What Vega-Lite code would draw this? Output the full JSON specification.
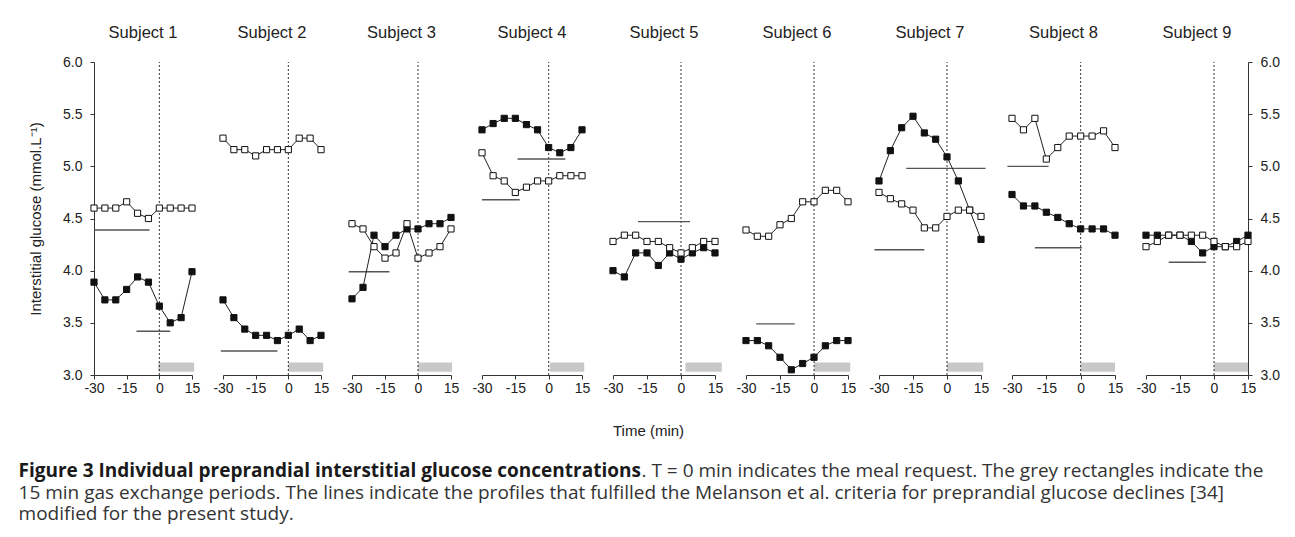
{
"$schema": "https://vega.github.io/schema/vega-lite/v6.json",
"background": "white",
"padding": {"left": 18, "top": 24, "right": 0, "bottom": 8},
"autosize": {"type": "pad"},
"datasets": {"g": [
{"s":1,"k":"filled","t":-30,"v":3.89},{"s":1,"k":"filled","t":-25,"v":3.72},{"s":1,"k":"filled","t":-20,"v":3.72},{"s":1,"k":"filled","t":-15,"v":3.82},{"s":1,"k":"filled","t":-10,"v":3.94},{"s":1,"k":"filled","t":-5,"v":3.89},{"s":1,"k":"filled","t":0,"v":3.66},{"s":1,"k":"filled","t":5,"v":3.50},{"s":1,"k":"filled","t":10,"v":3.55},{"s":1,"k":"filled","t":15,"v":3.99},
{"s":1,"k":"open","t":-30,"v":4.60},{"s":1,"k":"open","t":-25,"v":4.60},{"s":1,"k":"open","t":-20,"v":4.60},{"s":1,"k":"open","t":-15,"v":4.66},{"s":1,"k":"open","t":-10,"v":4.55},{"s":1,"k":"open","t":-5,"v":4.50},{"s":1,"k":"open","t":0,"v":4.60},{"s":1,"k":"open","t":5,"v":4.60},{"s":1,"k":"open","t":10,"v":4.60},{"s":1,"k":"open","t":15,"v":4.60},
{"s":2,"k":"filled","t":-30,"v":3.72},{"s":2,"k":"filled","t":-25,"v":3.55},{"s":2,"k":"filled","t":-20,"v":3.44},{"s":2,"k":"filled","t":-15,"v":3.38},{"s":2,"k":"filled","t":-10,"v":3.38},{"s":2,"k":"filled","t":-5,"v":3.33},{"s":2,"k":"filled","t":0,"v":3.38},{"s":2,"k":"filled","t":5,"v":3.44},{"s":2,"k":"filled","t":10,"v":3.33},{"s":2,"k":"filled","t":15,"v":3.38},
{"s":2,"k":"open","t":-30,"v":5.27},{"s":2,"k":"open","t":-25,"v":5.16},{"s":2,"k":"open","t":-20,"v":5.16},{"s":2,"k":"open","t":-15,"v":5.10},{"s":2,"k":"open","t":-10,"v":5.16},{"s":2,"k":"open","t":-5,"v":5.16},{"s":2,"k":"open","t":0,"v":5.16},{"s":2,"k":"open","t":5,"v":5.27},{"s":2,"k":"open","t":10,"v":5.27},{"s":2,"k":"open","t":15,"v":5.16},
{"s":3,"k":"filled","t":-30,"v":3.73},{"s":3,"k":"filled","t":-25,"v":3.84},{"s":3,"k":"filled","t":-20,"v":4.34},{"s":3,"k":"filled","t":-15,"v":4.23},{"s":3,"k":"filled","t":-10,"v":4.34},{"s":3,"k":"filled","t":-5,"v":4.40},{"s":3,"k":"filled","t":0,"v":4.40},{"s":3,"k":"filled","t":5,"v":4.45},{"s":3,"k":"filled","t":10,"v":4.45},{"s":3,"k":"filled","t":15,"v":4.51},
{"s":3,"k":"open","t":-30,"v":4.45},{"s":3,"k":"open","t":-25,"v":4.40},{"s":3,"k":"open","t":-20,"v":4.23},{"s":3,"k":"open","t":-15,"v":4.12},{"s":3,"k":"open","t":-10,"v":4.17},{"s":3,"k":"open","t":-5,"v":4.45},{"s":3,"k":"open","t":0,"v":4.12},{"s":3,"k":"open","t":5,"v":4.17},{"s":3,"k":"open","t":10,"v":4.23},{"s":3,"k":"open","t":15,"v":4.40},
{"s":4,"k":"filled","t":-30,"v":5.35},{"s":4,"k":"filled","t":-25,"v":5.41},{"s":4,"k":"filled","t":-20,"v":5.46},{"s":4,"k":"filled","t":-15,"v":5.46},{"s":4,"k":"filled","t":-10,"v":5.40},{"s":4,"k":"filled","t":-5,"v":5.35},{"s":4,"k":"filled","t":0,"v":5.18},{"s":4,"k":"filled","t":5,"v":5.13},{"s":4,"k":"filled","t":10,"v":5.18},{"s":4,"k":"filled","t":15,"v":5.35},
{"s":4,"k":"open","t":-30,"v":5.13},{"s":4,"k":"open","t":-25,"v":4.91},{"s":4,"k":"open","t":-20,"v":4.86},{"s":4,"k":"open","t":-15,"v":4.75},{"s":4,"k":"open","t":-10,"v":4.80},{"s":4,"k":"open","t":-5,"v":4.86},{"s":4,"k":"open","t":0,"v":4.86},{"s":4,"k":"open","t":5,"v":4.91},{"s":4,"k":"open","t":10,"v":4.91},{"s":4,"k":"open","t":15,"v":4.91},
{"s":5,"k":"filled","t":-30,"v":4.00},{"s":5,"k":"filled","t":-25,"v":3.94},{"s":5,"k":"filled","t":-20,"v":4.17},{"s":5,"k":"filled","t":-15,"v":4.17},{"s":5,"k":"filled","t":-10,"v":4.05},{"s":5,"k":"filled","t":-5,"v":4.17},{"s":5,"k":"filled","t":0,"v":4.11},{"s":5,"k":"filled","t":5,"v":4.17},{"s":5,"k":"filled","t":10,"v":4.22},{"s":5,"k":"filled","t":15,"v":4.17},
{"s":5,"k":"open","t":-30,"v":4.28},{"s":5,"k":"open","t":-25,"v":4.34},{"s":5,"k":"open","t":-20,"v":4.34},{"s":5,"k":"open","t":-15,"v":4.28},{"s":5,"k":"open","t":-10,"v":4.28},{"s":5,"k":"open","t":-5,"v":4.22},{"s":5,"k":"open","t":0,"v":4.17},{"s":5,"k":"open","t":5,"v":4.22},{"s":5,"k":"open","t":10,"v":4.28},{"s":5,"k":"open","t":15,"v":4.28},
{"s":6,"k":"filled","t":-30,"v":3.33},{"s":6,"k":"filled","t":-25,"v":3.33},{"s":6,"k":"filled","t":-20,"v":3.28},{"s":6,"k":"filled","t":-15,"v":3.17},{"s":6,"k":"filled","t":-10,"v":3.05},{"s":6,"k":"filled","t":-5,"v":3.11},{"s":6,"k":"filled","t":0,"v":3.17},{"s":6,"k":"filled","t":5,"v":3.28},{"s":6,"k":"filled","t":10,"v":3.33},{"s":6,"k":"filled","t":15,"v":3.33},
{"s":6,"k":"open","t":-30,"v":4.39},{"s":6,"k":"open","t":-25,"v":4.33},{"s":6,"k":"open","t":-20,"v":4.33},{"s":6,"k":"open","t":-15,"v":4.44},{"s":6,"k":"open","t":-10,"v":4.50},{"s":6,"k":"open","t":-5,"v":4.66},{"s":6,"k":"open","t":0,"v":4.66},{"s":6,"k":"open","t":5,"v":4.77},{"s":6,"k":"open","t":10,"v":4.77},{"s":6,"k":"open","t":15,"v":4.66},
{"s":7,"k":"filled","t":-30,"v":4.86},{"s":7,"k":"filled","t":-25,"v":5.15},{"s":7,"k":"filled","t":-20,"v":5.37},{"s":7,"k":"filled","t":-15,"v":5.48},{"s":7,"k":"filled","t":-10,"v":5.32},{"s":7,"k":"filled","t":-5,"v":5.26},{"s":7,"k":"filled","t":0,"v":5.09},{"s":7,"k":"filled","t":5,"v":4.86},{"s":7,"k":"filled","t":10,"v":4.58},{"s":7,"k":"filled","t":15,"v":4.30},
{"s":7,"k":"open","t":-30,"v":4.75},{"s":7,"k":"open","t":-25,"v":4.69},{"s":7,"k":"open","t":-20,"v":4.64},{"s":7,"k":"open","t":-15,"v":4.58},{"s":7,"k":"open","t":-10,"v":4.41},{"s":7,"k":"open","t":-5,"v":4.41},{"s":7,"k":"open","t":0,"v":4.52},{"s":7,"k":"open","t":5,"v":4.58},{"s":7,"k":"open","t":10,"v":4.58},{"s":7,"k":"open","t":15,"v":4.52},
{"s":8,"k":"filled","t":-30,"v":4.73},{"s":8,"k":"filled","t":-25,"v":4.62},{"s":8,"k":"filled","t":-20,"v":4.62},{"s":8,"k":"filled","t":-15,"v":4.56},{"s":8,"k":"filled","t":-10,"v":4.51},{"s":8,"k":"filled","t":-5,"v":4.45},{"s":8,"k":"filled","t":0,"v":4.40},{"s":8,"k":"filled","t":5,"v":4.40},{"s":8,"k":"filled","t":10,"v":4.40},{"s":8,"k":"filled","t":15,"v":4.34},
{"s":8,"k":"open","t":-30,"v":5.46},{"s":8,"k":"open","t":-25,"v":5.35},{"s":8,"k":"open","t":-20,"v":5.46},{"s":8,"k":"open","t":-15,"v":5.07},{"s":8,"k":"open","t":-10,"v":5.18},{"s":8,"k":"open","t":-5,"v":5.29},{"s":8,"k":"open","t":0,"v":5.29},{"s":8,"k":"open","t":5,"v":5.29},{"s":8,"k":"open","t":10,"v":5.34},{"s":8,"k":"open","t":15,"v":5.18},
{"s":9,"k":"filled","t":-30,"v":4.34},{"s":9,"k":"filled","t":-25,"v":4.34},{"s":9,"k":"filled","t":-20,"v":4.34},{"s":9,"k":"filled","t":-15,"v":4.34},{"s":9,"k":"filled","t":-10,"v":4.28},{"s":9,"k":"filled","t":-5,"v":4.17},{"s":9,"k":"filled","t":0,"v":4.23},{"s":9,"k":"filled","t":5,"v":4.23},{"s":9,"k":"filled","t":10,"v":4.28},{"s":9,"k":"filled","t":15,"v":4.34},
{"s":9,"k":"open","t":-30,"v":4.23},{"s":9,"k":"open","t":-25,"v":4.28},{"s":9,"k":"open","t":-20,"v":4.34},{"s":9,"k":"open","t":-15,"v":4.34},{"s":9,"k":"open","t":-10,"v":4.34},{"s":9,"k":"open","t":-5,"v":4.34},{"s":9,"k":"open","t":0,"v":4.28},{"s":9,"k":"open","t":5,"v":4.23},{"s":9,"k":"open","t":10,"v":4.23},{"s":9,"k":"open","t":15,"v":4.28},
{"s":1,"k":"crit","t":-30,"t2":-4.5,"v":4.39},{"s":1,"k":"crit","t":-10.5,"t2":5,"v":3.42},
{"s":2,"k":"crit","t":-31,"t2":-5,"v":3.23},
{"s":3,"k":"crit","t":-31.5,"t2":-13,"v":3.99},
{"s":4,"k":"crit","t":-14,"t2":7.5,"v":5.07},{"s":4,"k":"crit","t":-30,"t2":-13,"v":4.68},
{"s":5,"k":"crit","t":-19,"t2":4,"v":4.47},
{"s":6,"k":"crit","t":-25.5,"t2":-8.5,"v":3.49},
{"s":7,"k":"crit","t":-18,"t2":17,"v":4.98},{"s":7,"k":"crit","t":-32,"t2":-10,"v":4.20},
{"s":8,"k":"crit","t":-32,"t2":-14,"v":5.00},{"s":8,"k":"crit","t":-20,"t2":0.5,"v":4.22},
{"s":9,"k":"crit","t":-20,"t2":-3.5,"v":4.08},
{"s":1,"k":"gas","t":-0.5,"t2":16,"v":3.03,"v2":3.12},{"s":2,"k":"gas","t":0,"t2":16,"v":3.03,"v2":3.12},{"s":3,"k":"gas","t":0,"t2":15.5,"v":3.03,"v2":3.12},{"s":4,"k":"gas","t":0.5,"t2":16,"v":3.03,"v2":3.12},{"s":5,"k":"gas","t":2,"t2":18,"v":3.03,"v2":3.12},{"s":6,"k":"gas","t":0,"t2":16,"v":3.03,"v2":3.12},{"s":7,"k":"gas","t":0,"t2":16,"v":3.03,"v2":3.12},{"s":8,"k":"gas","t":0,"t2":15,"v":3.03,"v2":3.12},{"s":9,"k":"gas","t":0,"t2":15,"v":3.03,"v2":3.12},
{"s":1,"k":"zero","t":0,"v":3,"v2":6},{"s":2,"k":"zero","t":0,"v":3,"v2":6},{"s":3,"k":"zero","t":0,"v":3,"v2":6},{"s":4,"k":"zero","t":0,"v":3,"v2":6},{"s":5,"k":"zero","t":0,"v":3,"v2":6},{"s":6,"k":"zero","t":0,"v":3,"v2":6},{"s":7,"k":"zero","t":0,"v":3,"v2":6},{"s":8,"k":"zero","t":0,"v":3,"v2":6},{"s":9,"k":"zero","t":0,"v":3,"v2":6}
]},
"data": {"name": "g"},
"title": {
  "text": ["15 min gas exchange periods. The lines indicate the profiles that fulfilled the Melanson et al. criteria for preprandial glucose declines [34]", "modified for the present study."],
  "orient": "bottom", "anchor": "start", "frame": "bounds",
  "font": "Open Sans", "fontSize": 19, "fontWeight": "normal", "color": "#333333", "lineHeight": 21.5,
  "offset": 2.5, "dx": 0
},
"vconcat": [
{
"title": {
  "text": ". T = 0 min indicates the meal request. The grey rectangles indicate the",
  "orient": "bottom", "anchor": "start", "frame": "bounds",
  "font": "Open Sans", "fontSize": 19, "fontWeight": "normal", "color": "#333333",
  "offset": -19, "dx": 623
},
"vconcat": [
{
"title": {
  "text": "Figure 3 Individual preprandial interstitial glucose concentrations",
  "orient": "bottom", "anchor": "start", "frame": "bounds",
  "font": "Open Sans", "fontSize": 19, "fontWeight": "bold", "color": "#1a1a1a",
  "offset": 24, "dx": -10
},
"spacing": 31,
"bounds": "flush",
"hconcat": [
{"width": 98, "height": 313, "title": {"text": "Subject 1", "offset": 14}, "transform": [{"filter": "datum.s == 1"}],
 "encoding": {"x": {"field": "t", "type": "quantitative", "scale": {"domain": [-30, 15], "nice": false, "zero": false}, "axis": {"values": [-30, -15, 0, 15], "title": null, "labelExpr": "datum.value + ''"}},
  "y": {"field": "v", "type": "quantitative", "scale": {"domain": [3, 6], "nice": false, "zero": false}, "axis": {"values": [3, 3.5, 4, 4.5, 5, 5.5, 6], "format": ".1f", "title": "Interstitial glucose (mmol.L\u207b\u00b9)", "titleFontSize": 15, "titlePadding": 19, "labelPadding": 8}}},
 "layer": [
  {"transform": [{"filter": "datum.k == 'gas'"}], "mark": {"type": "rect", "color": "#c8c8c8"}, "encoding": {"x2": {"field": "t2"}, "y2": {"field": "v2"}}},
  {"transform": [{"filter": "datum.k == 'zero'"}], "mark": {"type": "rule", "color": "#333", "strokeDash": [2, 2], "strokeWidth": 1}, "encoding": {"y2": {"field": "v2"}}},
  {"transform": [{"filter": "datum.k == 'crit'"}], "mark": {"type": "rule", "color": "#555", "strokeWidth": 1.4}, "encoding": {"x2": {"field": "t2"}}},
  {"transform": [{"filter": "datum.k == 'filled' || datum.k == 'open'"}], "mark": {"type": "line", "color": "#222", "strokeWidth": 1}, "encoding": {"detail": {"field": "k"}}},
  {"transform": [{"filter": "datum.k == 'filled' || datum.k == 'open'"}], "mark": {"type": "point", "shape": "square", "size": 38, "filled": true, "stroke": "#111", "strokeWidth": 1, "opacity": 1}, "encoding": {"fill": {"field": "k", "type": "nominal", "scale": {"domain": ["filled", "open"], "range": ["#111111", "#ffffff"]}, "legend": null}}}
 ]},
{"width": 98, "height": 313, "title": {"text": "Subject 2"}, "transform": [{"filter": "datum.s == 2"}],
 "encoding": {"x": {"field": "t", "type": "quantitative", "scale": {"domain": [-30, 15], "nice": false, "zero": false}, "axis": {"values": [-30, -15, 0, 15], "title": null, "labelExpr": "datum.value + ''"}},
  "y": {"field": "v", "type": "quantitative", "scale": {"domain": [3, 6], "nice": false, "zero": false}, "axis": null}},
 "layer": [
  {"transform": [{"filter": "datum.k == 'gas'"}], "mark": {"type": "rect", "color": "#c8c8c8"}, "encoding": {"x2": {"field": "t2"}, "y2": {"field": "v2"}}},
  {"transform": [{"filter": "datum.k == 'zero'"}], "mark": {"type": "rule", "color": "#333", "strokeDash": [2, 2], "strokeWidth": 1}, "encoding": {"y2": {"field": "v2"}}},
  {"transform": [{"filter": "datum.k == 'crit'"}], "mark": {"type": "rule", "color": "#555", "strokeWidth": 1.4}, "encoding": {"x2": {"field": "t2"}}},
  {"transform": [{"filter": "datum.k == 'filled' || datum.k == 'open'"}], "mark": {"type": "line", "color": "#222", "strokeWidth": 1}, "encoding": {"detail": {"field": "k"}}},
  {"transform": [{"filter": "datum.k == 'filled' || datum.k == 'open'"}], "mark": {"type": "point", "shape": "square", "size": 38, "filled": true, "stroke": "#111", "strokeWidth": 1, "opacity": 1}, "encoding": {"fill": {"field": "k", "type": "nominal", "scale": {"domain": ["filled", "open"], "range": ["#111111", "#ffffff"]}, "legend": null}}}
 ]},
{"width": 99, "height": 313, "title": {"text": "Subject 3"}, "transform": [{"filter": "datum.s == 3"}],
 "encoding": {"x": {"field": "t", "type": "quantitative", "scale": {"domain": [-30, 15], "nice": false, "zero": false}, "axis": {"values": [-30, -15, 0, 15], "title": null, "labelExpr": "datum.value + ''"}},
  "y": {"field": "v", "type": "quantitative", "scale": {"domain": [3, 6], "nice": false, "zero": false}, "axis": null}},
 "layer": [
  {"transform": [{"filter": "datum.k == 'gas'"}], "mark": {"type": "rect", "color": "#c8c8c8"}, "encoding": {"x2": {"field": "t2"}, "y2": {"field": "v2"}}},
  {"transform": [{"filter": "datum.k == 'zero'"}], "mark": {"type": "rule", "color": "#333", "strokeDash": [2, 2], "strokeWidth": 1}, "encoding": {"y2": {"field": "v2"}}},
  {"transform": [{"filter": "datum.k == 'crit'"}], "mark": {"type": "rule", "color": "#555", "strokeWidth": 1.4}, "encoding": {"x2": {"field": "t2"}}},
  {"transform": [{"filter": "datum.k == 'filled' || datum.k == 'open'"}], "mark": {"type": "line", "color": "#222", "strokeWidth": 1}, "encoding": {"detail": {"field": "k"}}},
  {"transform": [{"filter": "datum.k == 'filled' || datum.k == 'open'"}], "mark": {"type": "point", "shape": "square", "size": 38, "filled": true, "stroke": "#111", "strokeWidth": 1, "opacity": 1}, "encoding": {"fill": {"field": "k", "type": "nominal", "scale": {"domain": ["filled", "open"], "range": ["#111111", "#ffffff"]}, "legend": null}}}
 ]},
{"width": 100, "height": 313, "title": {"text": "Subject 4"}, "transform": [{"filter": "datum.s == 4"}],
 "encoding": {"x": {"field": "t", "type": "quantitative", "scale": {"domain": [-30, 15], "nice": false, "zero": false}, "axis": {"values": [-30, -15, 0, 15], "title": null, "labelExpr": "datum.value + ''"}},
  "y": {"field": "v", "type": "quantitative", "scale": {"domain": [3, 6], "nice": false, "zero": false}, "axis": null}},
 "layer": [
  {"transform": [{"filter": "datum.k == 'gas'"}], "mark": {"type": "rect", "color": "#c8c8c8"}, "encoding": {"x2": {"field": "t2"}, "y2": {"field": "v2"}}},
  {"transform": [{"filter": "datum.k == 'zero'"}], "mark": {"type": "rule", "color": "#333", "strokeDash": [2, 2], "strokeWidth": 1}, "encoding": {"y2": {"field": "v2"}}},
  {"transform": [{"filter": "datum.k == 'crit'"}], "mark": {"type": "rule", "color": "#555", "strokeWidth": 1.4}, "encoding": {"x2": {"field": "t2"}}},
  {"transform": [{"filter": "datum.k == 'filled' || datum.k == 'open'"}], "mark": {"type": "line", "color": "#222", "strokeWidth": 1}, "encoding": {"detail": {"field": "k"}}},
  {"transform": [{"filter": "datum.k == 'filled' || datum.k == 'open'"}], "mark": {"type": "point", "shape": "square", "size": 38, "filled": true, "stroke": "#111", "strokeWidth": 1, "opacity": 1}, "encoding": {"fill": {"field": "k", "type": "nominal", "scale": {"domain": ["filled", "open"], "range": ["#111111", "#ffffff"]}, "legend": null}}}
 ]},
{"width": 102, "height": 313, "title": {"text": "Subject 5"}, "transform": [{"filter": "datum.s == 5"}],
 "encoding": {"x": {"field": "t", "type": "quantitative", "scale": {"domain": [-30, 15], "nice": false, "zero": false}, "axis": {"values": [-30, -15, 0, 15], "title": "Time (min)", "titleX": 35, "titlePadding": 28, "titleFontSize": 15, "labelExpr": "datum.value + ''"}},
  "y": {"field": "v", "type": "quantitative", "scale": {"domain": [3, 6], "nice": false, "zero": false}, "axis": null}},
 "layer": [
  {"transform": [{"filter": "datum.k == 'gas'"}], "mark": {"type": "rect", "color": "#c8c8c8"}, "encoding": {"x2": {"field": "t2"}, "y2": {"field": "v2"}}},
  {"transform": [{"filter": "datum.k == 'zero'"}], "mark": {"type": "rule", "color": "#333", "strokeDash": [2, 2], "strokeWidth": 1}, "encoding": {"y2": {"field": "v2"}}},
  {"transform": [{"filter": "datum.k == 'crit'"}], "mark": {"type": "rule", "color": "#555", "strokeWidth": 1.4}, "encoding": {"x2": {"field": "t2"}}},
  {"transform": [{"filter": "datum.k == 'filled' || datum.k == 'open'"}], "mark": {"type": "line", "color": "#222", "strokeWidth": 1}, "encoding": {"detail": {"field": "k"}}},
  {"transform": [{"filter": "datum.k == 'filled' || datum.k == 'open'"}], "mark": {"type": "point", "shape": "square", "size": 38, "filled": true, "stroke": "#111", "strokeWidth": 1, "opacity": 1}, "encoding": {"fill": {"field": "k", "type": "nominal", "scale": {"domain": ["filled", "open"], "range": ["#111111", "#ffffff"]}, "legend": null}}}
 ]},
{"width": 102, "height": 313, "title": {"text": "Subject 6"}, "transform": [{"filter": "datum.s == 6"}],
 "encoding": {"x": {"field": "t", "type": "quantitative", "scale": {"domain": [-30, 15], "nice": false, "zero": false}, "axis": {"values": [-30, -15, 0, 15], "title": null, "labelExpr": "datum.value + ''"}},
  "y": {"field": "v", "type": "quantitative", "scale": {"domain": [3, 6], "nice": false, "zero": false}, "axis": null}},
 "layer": [
  {"transform": [{"filter": "datum.k == 'gas'"}], "mark": {"type": "rect", "color": "#c8c8c8"}, "encoding": {"x2": {"field": "t2"}, "y2": {"field": "v2"}}},
  {"transform": [{"filter": "datum.k == 'zero'"}], "mark": {"type": "rule", "color": "#333", "strokeDash": [2, 2], "strokeWidth": 1}, "encoding": {"y2": {"field": "v2"}}},
  {"transform": [{"filter": "datum.k == 'crit'"}], "mark": {"type": "rule", "color": "#555", "strokeWidth": 1.4}, "encoding": {"x2": {"field": "t2"}}},
  {"transform": [{"filter": "datum.k == 'filled' || datum.k == 'open'"}], "mark": {"type": "line", "color": "#222", "strokeWidth": 1}, "encoding": {"detail": {"field": "k"}}},
  {"transform": [{"filter": "datum.k == 'filled' || datum.k == 'open'"}], "mark": {"type": "point", "shape": "square", "size": 38, "filled": true, "stroke": "#111", "strokeWidth": 1, "opacity": 1}, "encoding": {"fill": {"field": "k", "type": "nominal", "scale": {"domain": ["filled", "open"], "range": ["#111111", "#ffffff"]}, "legend": null}}}
 ]},
{"width": 102, "height": 313, "title": {"text": "Subject 7"}, "transform": [{"filter": "datum.s == 7"}],
 "encoding": {"x": {"field": "t", "type": "quantitative", "scale": {"domain": [-30, 15], "nice": false, "zero": false}, "axis": {"values": [-30, -15, 0, 15], "title": null, "labelExpr": "datum.value + ''"}},
  "y": {"field": "v", "type": "quantitative", "scale": {"domain": [3, 6], "nice": false, "zero": false}, "axis": null}},
 "layer": [
  {"transform": [{"filter": "datum.k == 'gas'"}], "mark": {"type": "rect", "color": "#c8c8c8"}, "encoding": {"x2": {"field": "t2"}, "y2": {"field": "v2"}}},
  {"transform": [{"filter": "datum.k == 'zero'"}], "mark": {"type": "rule", "color": "#333", "strokeDash": [2, 2], "strokeWidth": 1}, "encoding": {"y2": {"field": "v2"}}},
  {"transform": [{"filter": "datum.k == 'crit'"}], "mark": {"type": "rule", "color": "#555", "strokeWidth": 1.4}, "encoding": {"x2": {"field": "t2"}}},
  {"transform": [{"filter": "datum.k == 'filled' || datum.k == 'open'"}], "mark": {"type": "line", "color": "#222", "strokeWidth": 1}, "encoding": {"detail": {"field": "k"}}},
  {"transform": [{"filter": "datum.k == 'filled' || datum.k == 'open'"}], "mark": {"type": "point", "shape": "square", "size": 38, "filled": true, "stroke": "#111", "strokeWidth": 1, "opacity": 1}, "encoding": {"fill": {"field": "k", "type": "nominal", "scale": {"domain": ["filled", "open"], "range": ["#111111", "#ffffff"]}, "legend": null}}}
 ]},
{"width": 103, "height": 313, "title": {"text": "Subject 8"}, "transform": [{"filter": "datum.s == 8"}],
 "encoding": {"x": {"field": "t", "type": "quantitative", "scale": {"domain": [-30, 15], "nice": false, "zero": false}, "axis": {"values": [-30, -15, 0, 15], "title": null, "labelExpr": "datum.value + ''"}},
  "y": {"field": "v", "type": "quantitative", "scale": {"domain": [3, 6], "nice": false, "zero": false}, "axis": null}},
 "layer": [
  {"transform": [{"filter": "datum.k == 'gas'"}], "mark": {"type": "rect", "color": "#c8c8c8"}, "encoding": {"x2": {"field": "t2"}, "y2": {"field": "v2"}}},
  {"transform": [{"filter": "datum.k == 'zero'"}], "mark": {"type": "rule", "color": "#333", "strokeDash": [2, 2], "strokeWidth": 1}, "encoding": {"y2": {"field": "v2"}}},
  {"transform": [{"filter": "datum.k == 'crit'"}], "mark": {"type": "rule", "color": "#555", "strokeWidth": 1.4}, "encoding": {"x2": {"field": "t2"}}},
  {"transform": [{"filter": "datum.k == 'filled' || datum.k == 'open'"}], "mark": {"type": "line", "color": "#222", "strokeWidth": 1}, "encoding": {"detail": {"field": "k"}}},
  {"transform": [{"filter": "datum.k == 'filled' || datum.k == 'open'"}], "mark": {"type": "point", "shape": "square", "size": 38, "filled": true, "stroke": "#111", "strokeWidth": 1, "opacity": 1}, "encoding": {"fill": {"field": "k", "type": "nominal", "scale": {"domain": ["filled", "open"], "range": ["#111111", "#ffffff"]}, "legend": null}}}
 ]},
{"width": 102, "height": 313, "title": {"text": "Subject 9", "offset": 14}, "transform": [{"filter": "datum.s == 9"}],
 "encoding": {"x": {"field": "t", "type": "quantitative", "scale": {"domain": [-30, 15], "nice": false, "zero": false}, "axis": {"values": [-30, -15, 0, 15], "title": null, "labelExpr": "datum.value + ''"}},
  "y": {"field": "v", "type": "quantitative", "scale": {"domain": [3, 6], "nice": false, "zero": false}, "axis": {"orient": "right", "values": [3, 3.5, 4, 4.5, 5, 5.5, 6], "format": ".1f", "title": null, "labelPadding": 8}}},
 "layer": [
  {"transform": [{"filter": "datum.k == 'gas'"}], "mark": {"type": "rect", "color": "#c8c8c8"}, "encoding": {"x2": {"field": "t2"}, "y2": {"field": "v2"}}},
  {"transform": [{"filter": "datum.k == 'zero'"}], "mark": {"type": "rule", "color": "#333", "strokeDash": [2, 2], "strokeWidth": 1}, "encoding": {"y2": {"field": "v2"}}},
  {"transform": [{"filter": "datum.k == 'crit'"}], "mark": {"type": "rule", "color": "#555", "strokeWidth": 1.4}, "encoding": {"x2": {"field": "t2"}}},
  {"transform": [{"filter": "datum.k == 'filled' || datum.k == 'open'"}], "mark": {"type": "line", "color": "#222", "strokeWidth": 1}, "encoding": {"detail": {"field": "k"}}},
  {"transform": [{"filter": "datum.k == 'filled' || datum.k == 'open'"}], "mark": {"type": "point", "shape": "square", "size": 38, "filled": true, "stroke": "#111", "strokeWidth": 1, "opacity": 1}, "encoding": {"fill": {"field": "k", "type": "nominal", "scale": {"domain": ["filled", "open"], "range": ["#111111", "#ffffff"]}, "legend": null}}}
 ]}
]
}
]
}
],
"config": {
  "view": {"stroke": null},
  "axis": {"grid": false, "domainColor": "#333333", "tickColor": "#333333", "labelColor": "#222222", "labelFont": "Liberation Sans", "labelFontSize": 14, "titleFont": "Liberation Sans", "titleFontSize": 14, "titleFontWeight": "normal", "titleColor": "#222222", "tickSize": 4, "labelFlush": false, "labelOverlap": false, "labelBound": false, "domainWidth": 1, "tickWidth": 1},
  "title": {"font": "Liberation Sans", "fontSize": 16.5, "fontWeight": "normal", "color": "#222222", "offset": 20}
}
}
